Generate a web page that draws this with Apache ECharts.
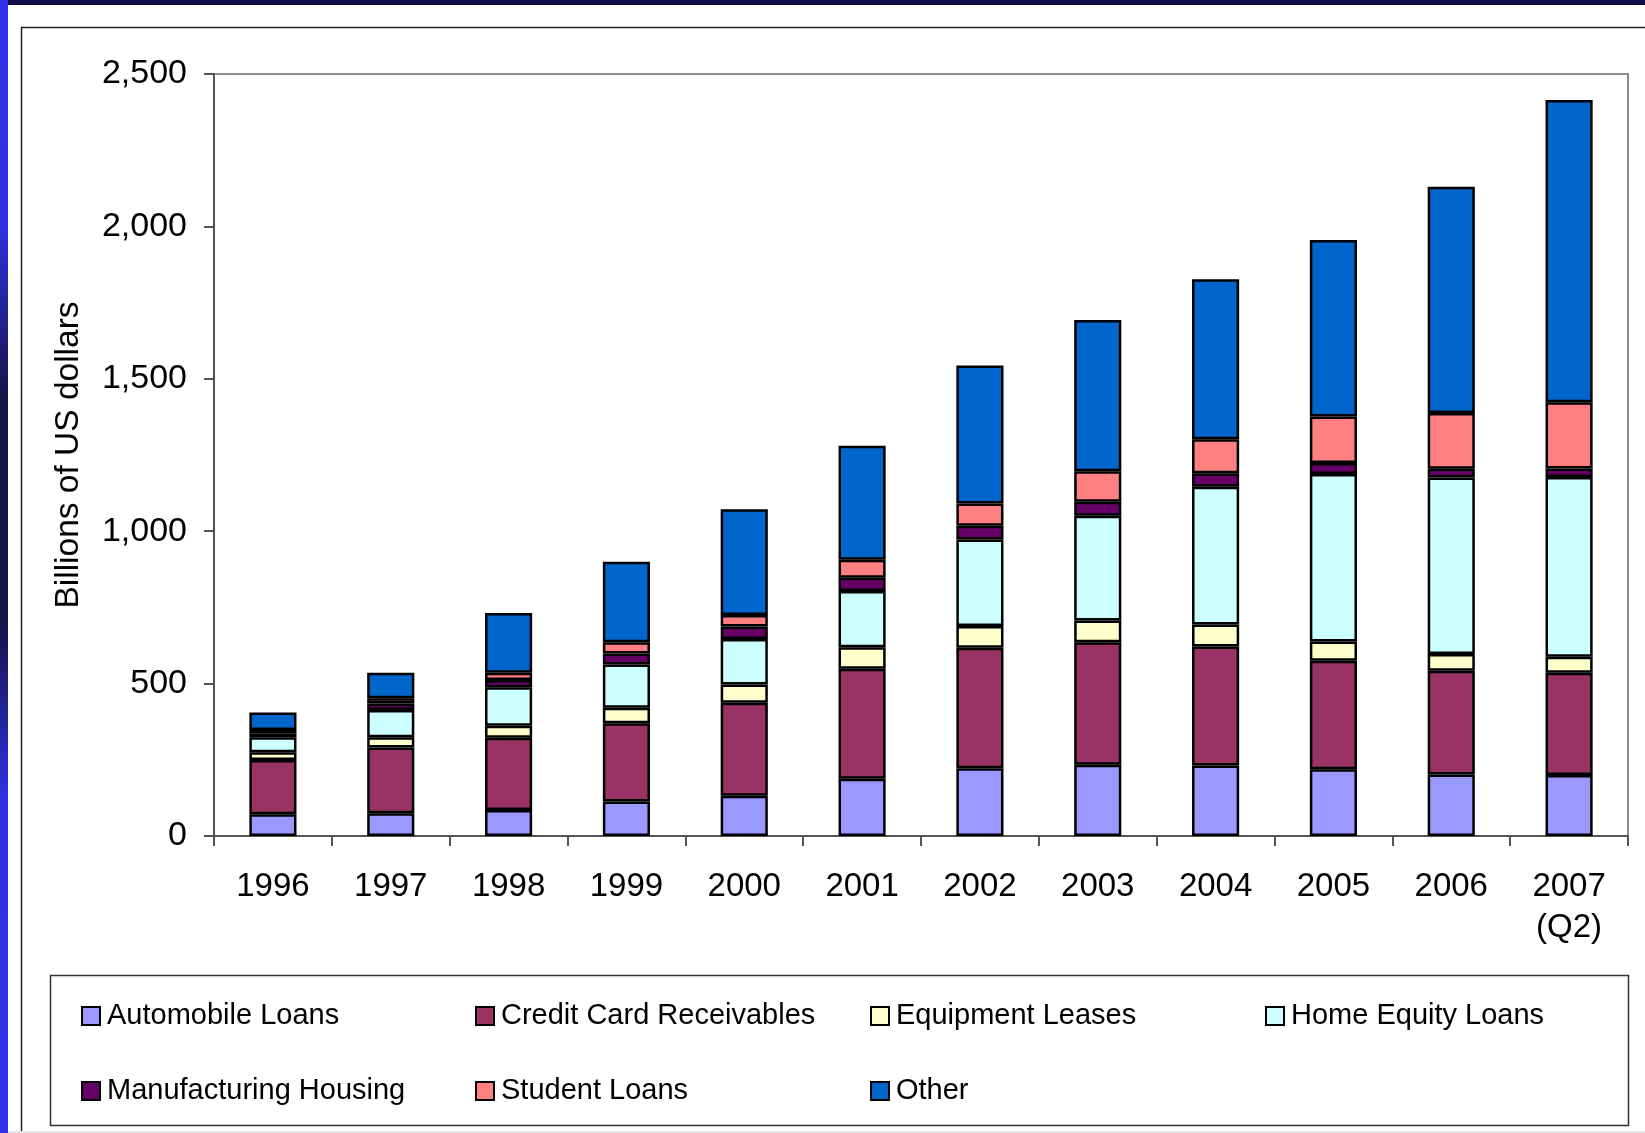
<!DOCTYPE html>
<html>
<head>
<meta charset="utf-8">
<title>Asset-backed securities outstanding</title>
<script src="https://cdn.jsdelivr.net/npm/echarts@6/dist/echarts.min.js"></script>
<style>
  html, body { margin: 0; padding: 0; background: #ffffff; }
  #chart { width: 1645px; height: 1133px; }
</style>
</head>
<body>
<div id="chart"></div>
<script>
// Categories (years) on the x axis
const years = ['1996', '1997', '1998', '1999', '2000', '2001', '2002', '2003', '2004', '2005', '2006', '2007\n(Q2)'];

// Outstanding amounts by collateral type, billions of US dollars
const automobileLoans       = [71, 75, 85, 113, 132, 188, 222, 234, 231, 219, 202, 200];
const creditCardReceivables = [178, 215, 237, 257, 305, 361, 396, 402, 391, 356, 340, 336];
const equipmentLeases       = [26, 34, 40, 51, 60, 70, 71, 71, 72, 63, 55, 52];
const homeEquityLoans       = [49, 89, 126, 142, 149, 185, 284, 344, 452, 550, 579, 590];
const manufacturingHousing  = [13, 22, 24, 36, 41, 43, 45, 46, 44, 36, 29, 28];
const studentLoans          = [11, 17, 24, 37, 38, 59, 73, 100, 112, 152, 183, 217];
const otherAssets           = [57, 84, 196, 264, 347, 374, 453, 496, 525, 579, 742, 992];

// Y axis ticks
const yMin = 0, yMax = 2500, yStep = 500;

const FONT = '"Liberation Sans", Arial, sans-serif';

const seriesDefs = [
  { name: 'Automobile Loans',        data: automobileLoans,       color: '#9999ff' },
  { name: 'Credit Card Receivables', data: creditCardReceivables, color: '#993366' },
  { name: 'Equipment Leases',        data: equipmentLeases,       color: '#ffffcc' },
  { name: 'Home Equity Loans',       data: homeEquityLoans,       color: '#ccffff' },
  { name: 'Manufacturing Housing',   data: manufacturingHousing,  color: '#660066' },
  { name: 'Student Loans',           data: studentLoans,          color: '#ff8080' },
  { name: 'Other',                   data: otherAssets,           color: '#0066cc' }
];

// Legend laid out as a 4-column grid inside a framed box
const legendCols = [81, 475, 870, 1265];
const legendRows = [1016, 1091];
const legends = seriesDefs.map((s, i) => ({
  data: [s.name],
  left: legendCols[i % 4],
  top: legendRows[Math.floor(i / 4)] - 15,
  padding: 0,
  itemWidth: 18,
  itemHeight: 18,
  icon: 'rect',
  selectedMode: false,
  textStyle: { fontFamily: FONT, fontSize: 29, color: '#000', lineHeight: 30, padding: [0, 0, 0, 2] }
}));

const chart = echarts.init(document.getElementById('chart'), null, { renderer: 'canvas' });

chart.setOption({
  animation: false,
  backgroundColor: '#ffffff',
  textStyle: { fontFamily: FONT },
  grid: {
    left: 214, top: 74, right: 17, bottom: 297,
    show: true, borderColor: '#8c8c8c', borderWidth: 2, backgroundColor: 'transparent'
  },
  legend: legends,
  xAxis: {
    type: 'category',
    data: years,
    boundaryGap: true,
    axisLine: { lineStyle: { color: '#555', width: 2 } },
    axisTick: { show: true, interval: 0, length: 10, lineStyle: { color: '#555', width: 2 } },
    axisLabel: {
      interval: 0, margin: 30, color: '#000', fontFamily: FONT, fontSize: 33, lineHeight: 41
    },
    splitLine: { show: false }
  },
  yAxis: {
    type: 'value',
    min: yMin, max: yMax, interval: yStep,
    name: 'Billions of US dollars',
    nameLocation: 'middle',
    nameRotate: 90,
    nameGap: 128,
    nameTextStyle: { fontFamily: FONT, fontSize: 33.5, color: '#000' },
    axisLine: { show: true, lineStyle: { color: '#555', width: 2 } },
    axisTick: { show: true, length: 10, lineStyle: { color: '#555', width: 2 } },
    axisLabel: {
      margin: 27, color: '#000', fontFamily: FONT, fontSize: 34,
      formatter: v => v.toLocaleString('en-US')
    },
    splitLine: { show: false }
  },
  series: seriesDefs.map(s => ({
    name: s.name,
    type: 'bar',
    stack: 'total',
    barWidth: '40%',
    data: s.data,
    itemStyle: { color: s.color, borderColor: '#000', borderWidth: 2.5 }
  })),
  graphic: [
    // slide decoration: navy top band and blue left stripe
    { type: 'rect', z: 0, silent: true, shape: { x: 0, y: 0, width: 1645, height: 5 }, style: { fill: '#10104e' } },
    {
      type: 'rect', z: 0, silent: true, shape: { x: 0, y: 0, width: 8, height: 1133 },
      style: {
        fill: new echarts.graphic.LinearGradient(0, 0, 0, 1, [
          { offset: 0, color: '#3333ee' },
          { offset: 0.2, color: '#3030e0' },
          { offset: 0.35, color: '#14144a' },
          { offset: 0.55, color: '#14144a' },
          { offset: 0.7, color: '#3030e0' },
          { offset: 1, color: '#3333ee' }
        ])
      }
    },
    // chart area frame
    { type: 'rect', z: 0, silent: true, shape: { x: 21.5, y: 27.5, width: 1700, height: 1200 }, style: { fill: 'none', stroke: '#222', lineWidth: 1.5 } },
    // legend box
    { type: 'rect', z: 0, silent: true, shape: { x: 50.5, y: 975.5, width: 1578, height: 150 }, style: { fill: 'none', stroke: '#333', lineWidth: 1.5 } },
    { type: 'rect', z: 0, silent: true, shape: { x: 8, y: 1131, width: 1637, height: 2 }, style: { fill: '#e4e4e4' } }
  ]
});
</script>
</body>
</html>
